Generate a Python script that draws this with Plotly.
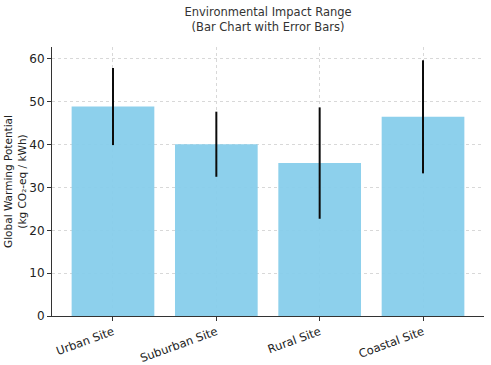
import plotly.graph_objects as go

sites = ["Urban Site", "Suburban Site", "Rural Site", "Coastal Site"]
gwp_mean = [48.9, 40.1, 35.7, 46.5]
gwp_err = [9.0, 7.6, 13.0, 13.2]

fig = go.Figure()
fig.add_trace(go.Bar(
    x=sites, y=gwp_mean,
    marker=dict(color="#87CEEB", line=dict(width=0)),
    opacity=0.95,
    width=0.8,
    error_y=dict(type="data", array=gwp_err, visible=True, color="black", thickness=2, width=0),
))

font = "DejaVu Sans"
fig.update_layout(
    width=491, height=365,
    margin=dict(l=52, r=7, t=47, b=49, autoexpand=False),
    paper_bgcolor="white", plot_bgcolor="white",
    showlegend=False,
    title=dict(text="Environmental Impact Range<br>(Bar Chart with Error Bars)",
               x=(52 + 484) / 2 / 491, xanchor="center",
               yref="container", y=1 - 16 / 365, yanchor="middle",
               font=dict(family=font, size=11.5, color="#333333")),
    font=dict(family=font, color="#222222"),
)
fig.update_xaxes(
    range=[-0.59, 3.59], automargin=False,
    showline=True, linecolor="#333333", linewidth=1,
    ticks="outside", ticklen=4, tickcolor="#333333",
    showgrid=True, gridcolor="#d8d8d8", griddash="dot", gridwidth=1,
    tickangle=-20, tickfont=dict(size=11.5, color="#222222"),
)
fig.update_yaxes(
    range=[0, 62.8], automargin=False,
    tickvals=[0, 10, 20, 30, 40, 50, 60],
    showline=True, linecolor="#333333", linewidth=1,
    ticks="outside", ticklen=4, tickcolor="#333333",
    showgrid=True, gridcolor="#d8d8d8", griddash="dot", gridwidth=1,
    zeroline=False,
    tickfont=dict(size=12, color="#222222"),
    title=dict(text="Global Warming Potential<br>(kg CO₂-eq / kWh)", font=dict(size=10.5, color="#222222"), standoff=0),
)
fig.write_html("out.html", config={"displayModeBar": False},
               post_script="document.body.style.margin='0px';")
